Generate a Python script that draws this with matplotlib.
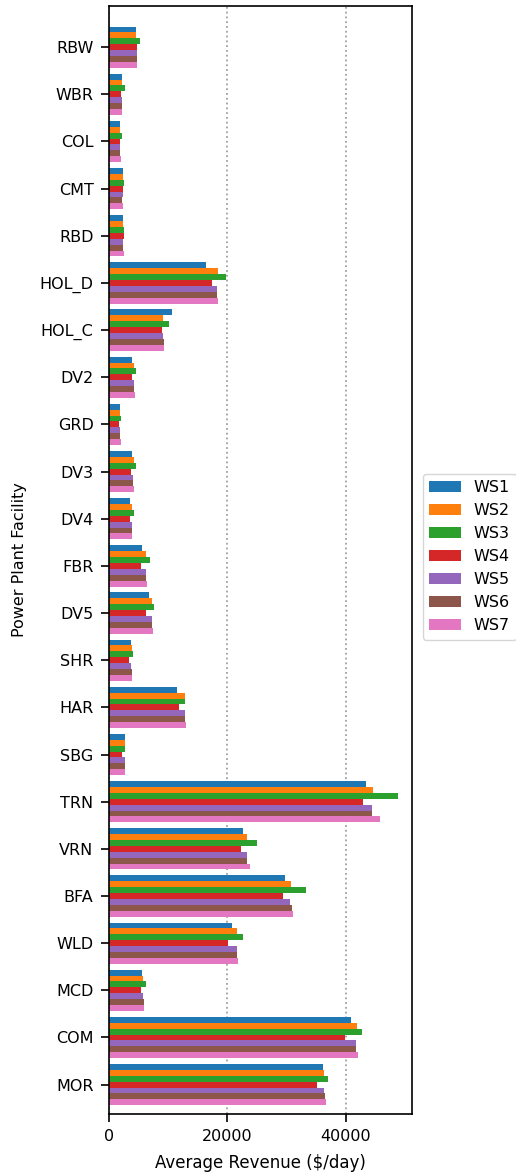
import numpy as np
import matplotlib
matplotlib.use("Agg")
import matplotlib.pyplot as plt

facilities = ["RBW", "WBR", "COL", "CMT", "RBD", "HOL_D", "HOL_C", "DV2", "GRD",
              "DV3", "DV4", "FBR", "DV5", "SHR", "HAR", "SBG", "TRN", "VRN",
              "BFA", "WLD", "MCD", "COM", "MOR"]
series_names = ["WS1", "WS2", "WS3", "WS4", "WS5", "WS6", "WS7"]

# average revenue ($/day), one list per water scenario
ws1 = [4650, 2200, 1870, 2400, 2400, 16500, 10700, 3850, 1800, 3900, 3500, 5650, 6800,
       3750, 11550, 2650, 43500, 22750, 29800, 20800, 5600, 40900, 36200]
ws2 = [4650, 2200, 1900, 2400, 2400, 18400, 9200, 4250, 1950, 4200, 3950, 6350, 7300,
       3950, 12900, 2650, 44600, 23400, 30850, 21700, 5850, 41950, 36350]
ws3 = [5200, 2800, 2200, 2550, 2550, 19750, 10100, 4650, 2000, 4650, 4300, 7000, 7700,
       4150, 12900, 2800, 48800, 25100, 33400, 22600, 6200, 42800, 37100]
ws4 = [4800, 2100, 1870, 2400, 2500, 17500, 9000, 3850, 1700, 3750, 3550, 5500, 6250,
       3350, 11900, 2300, 42900, 22400, 29400, 20200, 5400, 39900, 35200]
ws5 = [4800, 2200, 1870, 2400, 2400, 18200, 9200, 4250, 1900, 4150, 3950, 6300, 7300,
       3800, 12850, 2650, 44500, 23300, 30700, 21600, 5850, 41800, 36350]
ws6 = [4800, 2200, 1870, 2300, 2400, 18350, 9350, 4250, 1900, 4150, 3950, 6350, 7300,
       3950, 12850, 2650, 44500, 23400, 30950, 21600, 5900, 41800, 36500]
ws7 = [4800, 2300, 2000, 2400, 2500, 18500, 9350, 4400, 2000, 4300, 3950, 6500, 7500,
       3950, 13000, 2650, 45900, 23800, 31100, 21800, 5900, 42100, 36700]
all_series = [ws1, ws2, ws3, ws4, ws5, ws6, ws7]

fig = plt.figure(figsize=(5.16, 11.74), dpi=100)
ax = fig.add_axes([0.211, 0.051, 0.587, 0.944])

y = np.arange(len(facilities))
bar_h = 0.125
n = len(all_series)
for i, vals in enumerate(all_series):
    offset = (i - (n - 1) / 2) * bar_h
    ax.barh(y + offset, vals, height=bar_h, color="C%d" % i, label=series_names[i], zorder=2)

ax.set_yticks(y)
ax.set_yticklabels(facilities)
ax.set_ylim(22.625, -0.875)
ax.set_xlim(0, 51200)
ax.set_xticks([0, 20000, 40000])
ax.xaxis.grid(True, linestyle=":", color="#a0a0a0", linewidth=1.3, zorder=0)
ax.set_axisbelow(True)

ax.set_xlabel("Average Revenue ($/day)", fontsize=12, labelpad=7)
ax.set_ylabel("Power Plant Facility", fontsize=11.5, labelpad=9)
ax.tick_params(labelsize=11.5, length=6, width=1.2, pad=5)
for sp in ax.spines.values():
    sp.set_linewidth(1.2)

ax.legend(loc="center left", bbox_to_anchor=(1.01, 0.503), fontsize=11.5)

plt.savefig("out.png", dpi=100)
